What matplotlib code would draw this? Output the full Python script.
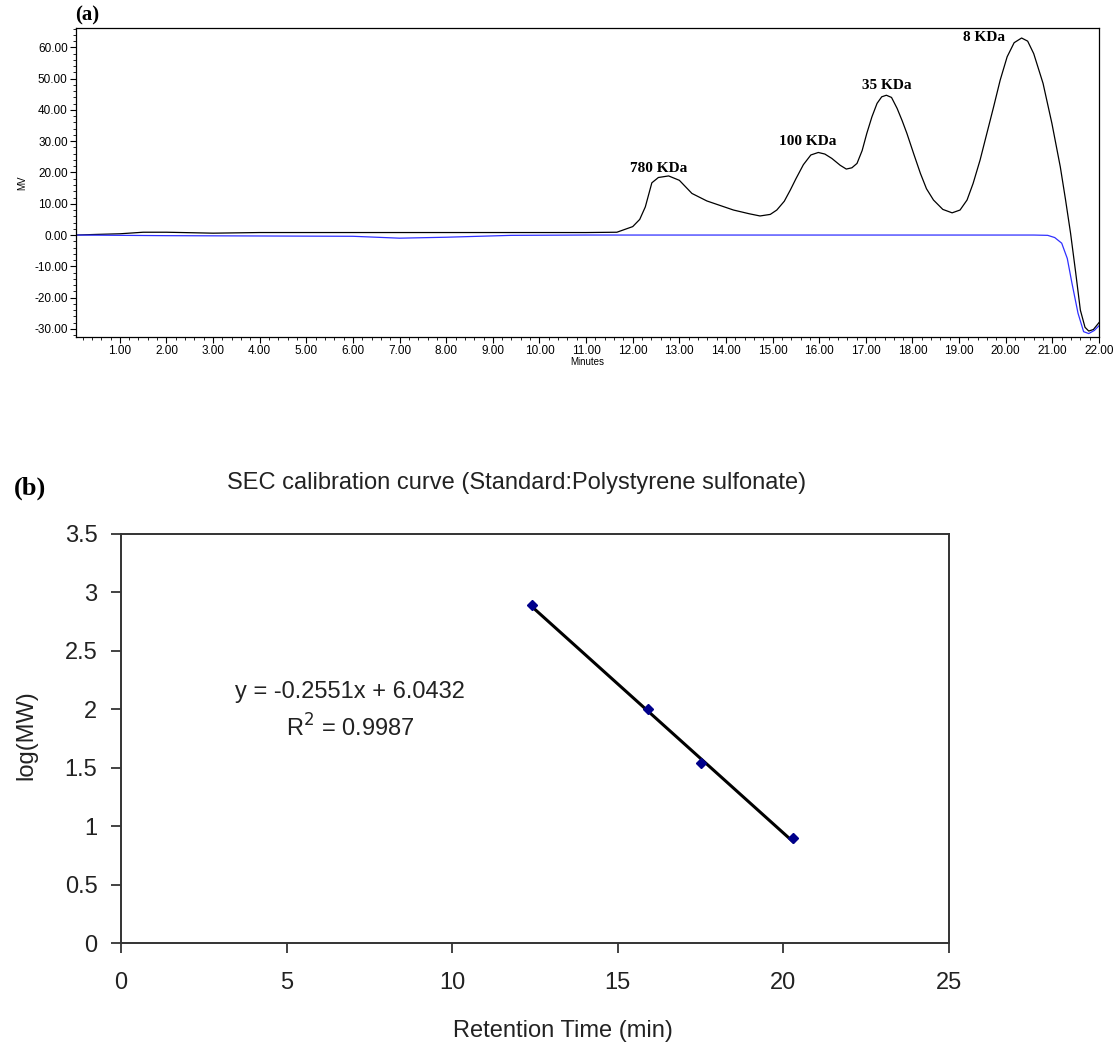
import numpy as np
import matplotlib
matplotlib.use("Agg")
import matplotlib.pyplot as plt
from matplotlib.ticker import MultipleLocator, FormatStrFormatter, FuncFormatter

# chromatogram, black trace (minutes, mV)
trace_t = [0.06, 0.5, 1.0, 1.5, 2.0, 3.0, 4.0, 5.0, 6.0, 7.0, 8.0, 9.0, 10.0, 11.0,
           11.66, 12.0, 12.15, 12.27, 12.41, 12.55, 12.77, 13.0, 13.27, 13.59, 14.16, 14.5, 14.73,
           14.95, 15.09, 15.25, 15.38, 15.5, 15.66, 15.82, 15.98, 16.12, 16.27, 16.45, 16.58,
           16.7, 16.81, 16.92, 17.02, 17.13, 17.24, 17.34, 17.44, 17.55, 17.67, 17.78, 17.88,
           18.03, 18.17, 18.3, 18.45, 18.65, 18.85, 19.02, 19.17, 19.3, 19.45, 19.6, 19.74,
           19.88, 20.03, 20.18, 20.34, 20.47, 20.6, 20.8, 20.99, 21.17, 21.28, 21.39, 21.5,
           21.6, 21.7, 21.78, 21.88, 22.0]
trace_mv = [0.0, 0.2, 0.4, 0.9, 0.9, 0.6, 0.8, 0.8, 0.8, 0.8, 0.8, 0.8, 0.8, 0.8,
            0.9, 2.7, 5.0, 9.0, 16.7, 18.4, 18.9, 17.5, 13.3, 10.9, 8.0, 6.8, 6.1,
            6.6, 8.0, 10.8, 14.4, 18.0, 22.5, 25.6, 26.4, 25.9, 24.5, 22.3, 21.1,
            21.5, 22.9, 27.0, 32.5, 37.8, 42.1, 44.2, 44.7, 44.0, 40.5, 36.5, 32.5,
            25.8, 19.7, 14.8, 11.2, 8.2, 7.1, 8.0, 11.2, 16.5, 24.0, 32.8, 41.0,
            49.5, 57.0, 61.5, 63.0, 62.0, 58.0, 48.5, 35.7, 21.8, 11.5, 0.6, -12.0,
            -24.0, -29.5, -30.7, -30.2, -28.0]

# blank baseline, blue trace
blank_t = [0.06, 2.0, 4.0, 6.0, 7.0, 8.0, 9.4, 11.0, 13.0, 15.0, 17.0, 19.0, 20.6, 20.9,
           21.05, 21.2, 21.32, 21.42, 21.55, 21.67, 21.78, 21.9, 22.0]
blank_mv = [0.0, -0.2, -0.3, -0.4, -1.0, -0.7, -0.1, 0.0, 0.0, 0.0, 0.0, 0.0, 0.0, -0.1,
            -0.8, -2.6, -7.5, -15.4, -25.0, -30.9, -31.5, -30.5, -29.0]

peak_labels = ["780 KDa", "100 KDa", "35 KDa", "8 KDa"]
peak_label_t = [12.56, 15.76, 17.45, 19.54]
peak_label_mv = [21.4, 29.8, 47.9, 63.1]

# calibration standards
ret_time = [12.4, 15.9, 17.5, 20.3]
log_mw = [2.89, 2.0, 1.54, 0.90]
slope, intercept = -0.2551, 6.0432

W, H = 1113, 1049
fig = plt.figure(figsize=(W / 100, H / 100), dpi=100)
plt.rcParams['font.family'] = ['Liberation Sans', 'DejaVu Sans']
serif = ['Liberation Serif', 'DejaVu Serif']
ink = '#222222'
fs_b = 17

def box(l, t, r, b):
    return [l / W, 1 - b / H, (r - l) / W, (b - t) / H]

# ---- (a) chromatogram ----
ax1 = fig.add_axes(box(76, 28, 1099, 337))
ax1.plot(trace_t, trace_mv, color='black', lw=0.9)
ax1.plot(blank_t, blank_mv, color='#3030ff', lw=0.9)
ax1.set_xlim(0.06, 22.0)
ax1.set_ylim(-32.6, 66.2)
ax1.xaxis.set_major_locator(MultipleLocator(1))
ax1.xaxis.set_minor_locator(MultipleLocator(0.2))
ax1.yaxis.set_major_locator(MultipleLocator(10))
ax1.yaxis.set_minor_locator(MultipleLocator(2))
ax1.xaxis.set_major_formatter(FormatStrFormatter('%.2f'))
ax1.yaxis.set_major_formatter(FormatStrFormatter('%.2f'))
ax1.tick_params(which='major', length=4, width=0.8, labelsize=8.5, pad=2)
ax1.tick_params(which='minor', length=2, width=0.6)
for s in ax1.spines.values():
    s.set_linewidth(0.9)
ax1.set_ylabel('MV', fontsize=7, labelpad=5)
ax1.set_xlabel('Minutes', fontsize=7, labelpad=0)
for lab, t, v in zip(peak_labels, peak_label_t, peak_label_mv):
    ax1.text(t, v, lab, ha='center', va='center', fontsize=11, fontweight='bold',
             family=serif)
fig.text(87 / W, 1 - 15 / H, '(a)', fontsize=15, fontweight='bold',
         family=serif, ha='center', va='center')

# ---- (b) calibration curve ----
ax2 = fig.add_axes(box(121, 534, 949, 943))
xfit = np.array([ret_time[0], ret_time[-1]])
ax2.plot(xfit, slope * xfit + intercept, color='black', lw=2.2, zorder=2)
ax2.plot(ret_time, log_mw, ls='none', marker='D', ms=5, color='#00008b', zorder=3)
ax2.set_xlim(0, 25)
ax2.set_ylim(0, 3.5)
ax2.xaxis.set_major_locator(MultipleLocator(5))
ax2.yaxis.set_major_locator(MultipleLocator(0.5))
ax2.yaxis.set_major_formatter(FuncFormatter(lambda v, p: f'{v:g}'))
ax2.tick_params(length=7, width=1.2, labelsize=fs_b, colors=ink)
ax2.tick_params(axis='x', pad=14)
ax2.tick_params(axis='y', pad=10)
for s in ax2.spines.values():
    s.set_linewidth(1.4)
    s.set_color('#333333')
fig.text(517 / W, 1 - 483 / H, 'SEC calibration curve (Standard:Polystyrene sulfonate)',
         fontsize=fs_b, color=ink, ha='center', va='center')
fig.text(563 / W, 1 - 1031 / H, 'Retention Time (min)', fontsize=fs_b, color=ink,
         ha='center', va='center')
fig.text(26 / W, 1 - 735 / H, 'log(MW)', fontsize=fs_b, color=ink, rotation=90,
         ha='center', va='center')
ax2.text(6.92, 2.15, 'y = -0.2551x + 6.0432', fontsize=fs_b, ha='center', va='center',
         color=ink)
ax2.text(6.92, 1.84, 'R$^2$ = 0.9987', fontsize=fs_b, ha='center', va='center', color=ink)
fig.text(30 / W, 1 - 488 / H, '(b)', fontsize=19, fontweight='bold',
         family=serif, ha='center', va='center')

fig.savefig('out.png', dpi=100)
